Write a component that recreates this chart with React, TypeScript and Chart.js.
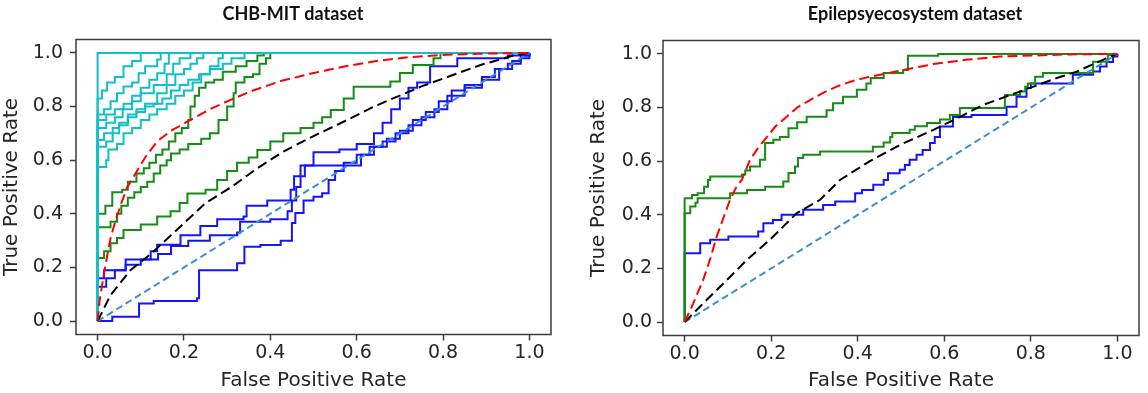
import React, { useEffect, useRef } from "react";
import { Chart, registerables } from "chart.js";

Chart.register(...registerables);

// ---------- shared ----------
const tickValues = [0, 0.2, 0.4, 0.6, 0.8, 1.0];
const xAxisLabel = "False Positive Rate";
const yAxisLabel = "True Positive Rate";
const chanceLine = [[0, 0], [1, 1]];

// ---------- CHB-MIT dataset (left) ----------
const chbTitle = "CHB-MIT dataset";
const chbRedMean = [[0, 0], [0.005, 0.08], [0.015, 0.18], [0.03, 0.31], [0.042, 0.377], [0.055, 0.44], [0.069, 0.5], [0.084, 0.54], [0.11, 0.61], [0.138, 0.67], [0.17, 0.71], [0.215, 0.75], [0.26, 0.79], [0.308, 0.825], [0.36, 0.86], [0.424, 0.895], [0.5, 0.925], [0.58, 0.952], [0.655, 0.972], [0.72, 0.984], [0.794, 0.992], [0.88, 0.997], [1, 1]];
const chbBlackMean = [[0, 0], [0.03, 0.097], [0.076, 0.19], [0.123, 0.25], [0.19, 0.35], [0.25, 0.44], [0.31, 0.5], [0.37, 0.57], [0.43, 0.632], [0.5, 0.69], [0.578, 0.75], [0.64, 0.8], [0.694, 0.837], [0.75, 0.875], [0.81, 0.91], [0.887, 0.955], [0.963, 0.99], [1, 1]];
const chbCyanPerfect = [[0, 0], [0, 1], [1, 1]];
const chbCyanA = [[0, 0], [0, 0.83], [0.01, 0.86], [0.022, 0.89], [0.04, 0.91], [0.06, 0.95], [0.08, 0.97], [0.1, 1.0], [1, 1]];
const chbCyanB = [[0, 0], [0, 0.77], [0.015, 0.79], [0.03, 0.82], [0.045, 0.85], [0.06, 0.875], [0.08, 0.89], [0.095, 0.924], [0.11, 0.95], [0.138, 0.975], [0.146, 1.0], [1, 1]];
const chbCyanC = [[0, 0], [0, 0.75], [0.02, 0.77], [0.04, 0.79], [0.06, 0.81], [0.08, 0.84], [0.1, 0.87], [0.12, 0.9], [0.138, 0.924], [0.155, 0.96], [0.165, 1.0], [1, 1]];
const chbCyanD = [[0, 0], [0, 0.72], [0.02, 0.74], [0.04, 0.76], [0.058, 0.79], [0.08, 0.82], [0.1, 0.85], [0.13, 0.88], [0.16, 0.92], [0.175, 0.96], [0.19, 0.98], [0.215, 1.0], [1, 1]];
const chbCyanE = [[0, 0], [0, 0.675], [0.015, 0.7], [0.035, 0.72], [0.05, 0.74], [0.07, 0.77], [0.09, 0.79], [0.11, 0.81], [0.138, 0.85], [0.16, 0.88], [0.18, 0.92], [0.2, 0.94], [0.215, 0.96], [0.23, 0.98], [0.245, 1.0], [1, 1]];
const chbCyanF = [[0, 0], [0, 0.65], [0.02, 0.67], [0.035, 0.7], [0.05, 0.73], [0.07, 0.76], [0.09, 0.78], [0.11, 0.8], [0.13, 0.81], [0.15, 0.83], [0.17, 0.86], [0.19, 0.88], [0.21, 0.9], [0.235, 0.92], [0.26, 0.94], [0.29, 0.96], [0.31, 0.98], [0.34, 1.0], [1, 1]];
const chbCyanG = [[0, 0], [0, 0.575], [0.02, 0.6], [0.025, 0.64], [0.045, 0.66], [0.06, 0.7], [0.08, 0.72], [0.1, 0.75], [0.12, 0.77], [0.138, 0.79], [0.16, 0.81], [0.18, 0.84], [0.2, 0.86], [0.22, 0.89], [0.24, 0.92], [0.26, 0.95], [0.28, 0.98], [0.29, 1.0], [1, 1]];
const chbGreenA = [[0, 0], [0, 0.4], [0.018, 0.43], [0.034, 0.48], [0.057, 0.49], [0.07, 0.52], [0.09, 0.55], [0.107, 0.57], [0.12, 0.59], [0.135, 0.62], [0.15, 0.64], [0.165, 0.67], [0.18, 0.7], [0.195, 0.72], [0.21, 0.75], [0.215, 0.8], [0.225, 0.84], [0.235, 0.87], [0.25, 0.89], [0.27, 0.9], [0.29, 0.93], [0.32, 0.95], [0.345, 0.97], [0.37, 0.99], [0.385, 1.0], [1, 1]];
const chbGreenB = [[0, 0], [0, 0.35], [0.03, 0.37], [0.045, 0.4], [0.055, 0.43], [0.07, 0.46], [0.085, 0.48], [0.1, 0.5], [0.115, 0.52], [0.13, 0.55], [0.145, 0.58], [0.16, 0.6], [0.17, 0.625], [0.19, 0.64], [0.21, 0.66], [0.24, 0.68], [0.26, 0.7], [0.28, 0.75], [0.3, 0.8], [0.315, 0.85], [0.32, 0.89], [0.34, 0.91], [0.36, 0.92], [0.375, 0.96], [0.39, 0.98], [0.4, 1.0], [1, 1]];
const chbGreenC = [[0, 0], [0, 0.235], [0.015, 0.26], [0.03, 0.29], [0.045, 0.31], [0.06, 0.34], [0.1, 0.36], [0.138, 0.39], [0.169, 0.41], [0.19, 0.44], [0.208, 0.476], [0.25, 0.49], [0.277, 0.526], [0.3, 0.56], [0.323, 0.59], [0.35, 0.61], [0.37, 0.638], [0.4, 0.67], [0.43, 0.7], [0.47, 0.72], [0.5, 0.74], [0.52, 0.76], [0.54, 0.787], [0.57, 0.83], [0.593, 0.874], [0.678, 0.893], [0.7, 0.925], [0.73, 0.955], [0.778, 0.98], [0.794, 1.0], [1, 1]];
const chbBlueA = [[0, 0], [0.034, 0.016], [0.096, 0.066], [0.13, 0.075], [0.23, 0.085], [0.235, 0.19], [0.323, 0.216], [0.34, 0.277], [0.377, 0.284], [0.424, 0.3], [0.45, 0.366], [0.458, 0.403], [0.477, 0.45], [0.5, 0.464], [0.52, 0.477], [0.535, 0.526], [0.55, 0.56], [0.57, 0.59], [0.6, 0.62], [0.63, 0.65], [0.66, 0.67], [0.69, 0.7], [0.72, 0.73], [0.75, 0.76], [0.78, 0.79], [0.81, 0.84], [0.85, 0.87], [0.89, 0.9], [0.93, 0.94], [0.96, 0.97], [0.98, 0.99], [1, 1]];
const chbBlueB = [[0, 0], [0, 0.16], [0.015, 0.19], [0.065, 0.23], [0.123, 0.26], [0.138, 0.285], [0.192, 0.32], [0.238, 0.355], [0.277, 0.38], [0.338, 0.39], [0.345, 0.43], [0.393, 0.45], [0.447, 0.49], [0.455, 0.54], [0.48, 0.58], [0.5, 0.63], [0.56, 0.64], [0.6, 0.66], [0.64, 0.7], [0.66, 0.74], [0.68, 0.79], [0.7, 0.83], [0.72, 0.87], [0.74, 0.89], [0.77, 0.95], [0.833, 0.98], [0.95, 0.99], [1, 1]];
const chbBlueC = [[0, 0], [0, 0.128], [0.02, 0.16], [0.04, 0.19], [0.065, 0.21], [0.1, 0.23], [0.14, 0.25], [0.17, 0.28], [0.21, 0.3], [0.26, 0.32], [0.323, 0.33], [0.33, 0.37], [0.4, 0.38], [0.44, 0.41], [0.45, 0.45], [0.46, 0.5], [0.47, 0.58], [0.61, 0.62], [0.64, 0.65], [0.67, 0.68], [0.7, 0.71], [0.73, 0.75], [0.76, 0.78], [0.79, 0.82], [0.82, 0.86], [0.85, 0.88], [0.89, 0.91], [0.92, 0.94], [0.95, 0.96], [0.98, 0.98], [1, 1]];

// ---------- Epilepsyecosystem dataset (right) ----------
const epiTitle = "Epilepsyecosystem dataset";
const epiRedMean = [[0, 0], [0.02, 0.07], [0.043, 0.158], [0.06, 0.24], [0.074, 0.319], [0.09, 0.39], [0.105, 0.456], [0.12, 0.505], [0.132, 0.53], [0.151, 0.605], [0.17, 0.65], [0.19, 0.69], [0.21, 0.73], [0.236, 0.766], [0.26, 0.8], [0.29, 0.828], [0.32, 0.855], [0.351, 0.878], [0.39, 0.9], [0.428, 0.915], [0.47, 0.928], [0.505, 0.94], [0.575, 0.962], [0.65, 0.978], [0.728, 0.99], [0.883, 0.998], [1, 1]];
const epiBlackMean = [[0, 0], [0.043, 0.07], [0.09, 0.145], [0.144, 0.232], [0.197, 0.307], [0.259, 0.406], [0.313, 0.456], [0.359, 0.53], [0.428, 0.6], [0.498, 0.661], [0.575, 0.717], [0.63, 0.76], [0.69, 0.81], [0.75, 0.845], [0.806, 0.878], [0.86, 0.91], [0.906, 0.934], [0.975, 0.984], [1, 1]];
const epiGreenA = [[0, 0], [0, 0.462], [0.017, 0.474], [0.03, 0.48], [0.045, 0.505], [0.054, 0.53], [0.059, 0.543], [0.132, 0.55], [0.14, 0.565], [0.151, 0.58], [0.174, 0.605], [0.186, 0.668], [0.205, 0.68], [0.22, 0.69], [0.24, 0.723], [0.26, 0.745], [0.282, 0.766], [0.328, 0.79], [0.343, 0.816], [0.366, 0.84], [0.398, 0.866], [0.42, 0.89], [0.43, 0.91], [0.46, 0.929], [0.505, 0.94], [0.516, 0.993], [0.586, 1.0], [1, 1]];
const epiGreenB = [[0, 0], [0, 0.406], [0.013, 0.431], [0.025, 0.445], [0.03, 0.462], [0.105, 0.48], [0.144, 0.493], [0.186, 0.505], [0.228, 0.524], [0.24, 0.556], [0.255, 0.58], [0.262, 0.612], [0.274, 0.624], [0.313, 0.636], [0.435, 0.654], [0.46, 0.67], [0.475, 0.69], [0.48, 0.705], [0.52, 0.717], [0.532, 0.73], [0.56, 0.742], [0.59, 0.755], [0.613, 0.772], [0.636, 0.798], [0.74, 0.847], [0.775, 0.86], [0.787, 0.878], [0.793, 0.89], [0.81, 0.915], [0.828, 0.929], [0.944, 0.971], [0.978, 0.996], [1, 1]];
const epiBlue = [[0, 0], [0, 0.257], [0.036, 0.294], [0.059, 0.307], [0.101, 0.319], [0.17, 0.338], [0.182, 0.369], [0.204, 0.381], [0.224, 0.4], [0.274, 0.419], [0.32, 0.437], [0.348, 0.45], [0.394, 0.48], [0.41, 0.493], [0.436, 0.512], [0.46, 0.53], [0.47, 0.555], [0.497, 0.568], [0.509, 0.586], [0.52, 0.605], [0.536, 0.624], [0.55, 0.642], [0.567, 0.668], [0.578, 0.69], [0.59, 0.729], [0.62, 0.765], [0.663, 0.772], [0.744, 0.803], [0.767, 0.84], [0.79, 0.873], [0.8, 0.89], [0.897, 0.922], [0.944, 0.934], [0.96, 0.953], [0.975, 0.97], [0.99, 0.99], [1, 1]];

// ---------- styles ----------
const RED = "#ff0000";
const BLACK = "#000000";
const CHANCE = "#3b8fd0";
const CYAN = "#12bfc6";
const GREEN = "#168c16";
const BLUE = "#1414ff";
const TEXT = "#262626";
const SPINE = "#3c3c3c";

const toXY = (pts: number[][]) => pts.map(([x, y]) => ({ x, y }));

function curve(pts: number[][], color: string, stepped: boolean, dash: number[] = []) {
  return {
    data: toXY(pts),
    borderColor: color,
    backgroundColor: color,
    borderWidth: 2,
    pointRadius: 0,
    fill: false,
    tension: 0,
    stepped: stepped ? true : false,
    borderDash: dash,
  };
}

const framePlugin = {
  id: "frameBox",
  afterDatasetsDraw(chart: any) {
    const { ctx, chartArea } = chart;
    const { left, top, right, bottom } = chartArea;
    ctx.save();
    ctx.strokeStyle = SPINE;
    ctx.lineWidth = 1.5;
    ctx.strokeRect(left, top, right - left, bottom - top);
    ctx.restore();
  },
};

const panelTitlePlugin = {
  id: "panelTitle",
  afterDraw(chart: any, _args: any, opts: any) {
    if (!opts || !opts.text) return;
    const { ctx } = chart;
    ctx.save();
    ctx.font = "bold 18px Lato, 'Liberation Sans', Arial, sans-serif";
    ctx.fillStyle = "#111";
    ctx.textAlign = "center";
    ctx.textBaseline = "middle";
    ctx.fillText(opts.text, opts.x, opts.y);
    ctx.restore();
  },
};

type Panel = {
  title: string;
  titleX: number;
  titleY: number;
  padLeft: number;
  padRight: number;
  padTop: number;
  yAxisW: number;
  xAxisH: number;
  yTickPad: number;
};

function makeConfig(datasets: any[], p: Panel) {
  const tickFont = { family: "'DejaVu Sans', sans-serif", size: 19 };
  const titleFont = { family: "'DejaVu Sans', sans-serif", size: 20 };
  const grid = {
    drawOnChartArea: false,
    drawTicks: true,
    tickLength: 6,
    tickWidth: 1.5,
    tickColor: SPINE,
    color: SPINE,
  };
  return {
    type: "line",
    data: { datasets },
    options: {
      animation: false,
      responsive: false,
      devicePixelRatio: 1,
      layout: { padding: { left: p.padLeft, right: p.padRight, top: p.padTop, bottom: 0 } },
      plugins: {
        legend: { display: false },
        tooltip: { enabled: false },
        panelTitle: { text: p.title, x: p.titleX, y: p.titleY },
      },
      scales: {
        x: {
          type: "linear",
          min: -0.05,
          max: 1.05,
          afterBuildTicks: (s: any) => {
            s.ticks = tickValues.map((v) => ({ value: v }));
          },
          afterFit: (s: any) => {
            s.height = p.xAxisH;
          },
          grid,
          border: { display: false },
          ticks: { font: tickFont, color: TEXT, padding: 1, maxRotation: 0, callback: (v: any) => Number(v).toFixed(1) },
          title: { display: true, text: xAxisLabel, font: titleFont, color: TEXT, padding: { top: 0, bottom: 0 } },
        },
        y: {
          type: "linear",
          min: -0.05,
          max: 1.05,
          afterBuildTicks: (s: any) => {
            s.ticks = tickValues.map((v) => ({ value: v }));
          },
          afterFit: (s: any) => {
            s.width = p.yAxisW;
          },
          grid,
          border: { display: false },
          ticks: { font: tickFont, color: TEXT, padding: p.yTickPad, callback: (v: any) => Number(v).toFixed(1) },
          title: { display: true, text: yAxisLabel, font: titleFont, color: TEXT, padding: { top: 0, bottom: 0 } },
        },
      },
    },
    plugins: [framePlugin, panelTitlePlugin],
  };
}

function chbDatasets() {
  return [
    curve(chbRedMean, RED, false, [10, 5]),
    curve(chbBlackMean, BLACK, false, [10, 5]),
    curve(chanceLine, CHANCE, false, [7, 4]),
    curve(chbCyanPerfect, CYAN, true),
    curve(chbCyanA, CYAN, true),
    curve(chbCyanB, CYAN, true),
    curve(chbCyanC, CYAN, true),
    curve(chbCyanD, CYAN, true),
    curve(chbCyanE, CYAN, true),
    curve(chbCyanF, CYAN, true),
    curve(chbCyanG, CYAN, true),
    curve(chbGreenA, GREEN, true),
    curve(chbGreenB, GREEN, true),
    curve(chbGreenC, GREEN, true),
    curve(chbBlueA, BLUE, true),
    curve(chbBlueB, BLUE, true),
    curve(chbBlueC, BLUE, true),
  ];
}

function epiDatasets() {
  return [
    curve(epiRedMean, RED, false, [10, 5]),
    curve(epiBlackMean, BLACK, false, [10, 5]),
    curve(chanceLine, CHANCE, false, [7, 4]),
    curve(epiGreenA, GREEN, true),
    curve(epiGreenB, GREEN, true),
    curve(epiBlue, BLUE, true),
  ];
}

const leftPanel: Panel = {
  title: chbTitle,
  titleX: 293,
  titleY: 14,
  padLeft: 0,
  padRight: 23,
  padTop: 39.5,
  yAxisW: 76,
  xAxisH: 58.5,
  yTickPad: 7,
};

const rightPanel: Panel = {
  title: epiTitle,
  titleX: 341,
  titleY: 14,
  padLeft: 13,
  padRight: 9,
  padTop: 40.5,
  yAxisW: 76,
  xAxisH: 57.5,
  yTickPad: 5,
};

function RocPanel({ datasets, panel, left }: { datasets: () => any[]; panel: Panel; left: number }) {
  const ref = useRef<HTMLCanvasElement | null>(null);
  useEffect(() => {
    if (!ref.current) return;
    const chart = new Chart(ref.current, makeConfig(datasets(), panel) as any);
    return () => chart.destroy();
  }, []);
  return (
    <canvas
      ref={ref}
      width={574}
      height={393}
      style={{ position: "absolute", left, top: 0, width: 574, height: 393 }}
    />
  );
}

export default function App() {
  return (
    <div
      style={{
        position: "fixed",
        left: 0,
        top: 0,
        width: 1148,
        height: 393,
        background: "#ffffff",
        overflow: "hidden",
      }}
    >
      <RocPanel datasets={chbDatasets} panel={leftPanel} left={0} />
      <RocPanel datasets={epiDatasets} panel={rightPanel} left={574} />
    </div>
  );
}
